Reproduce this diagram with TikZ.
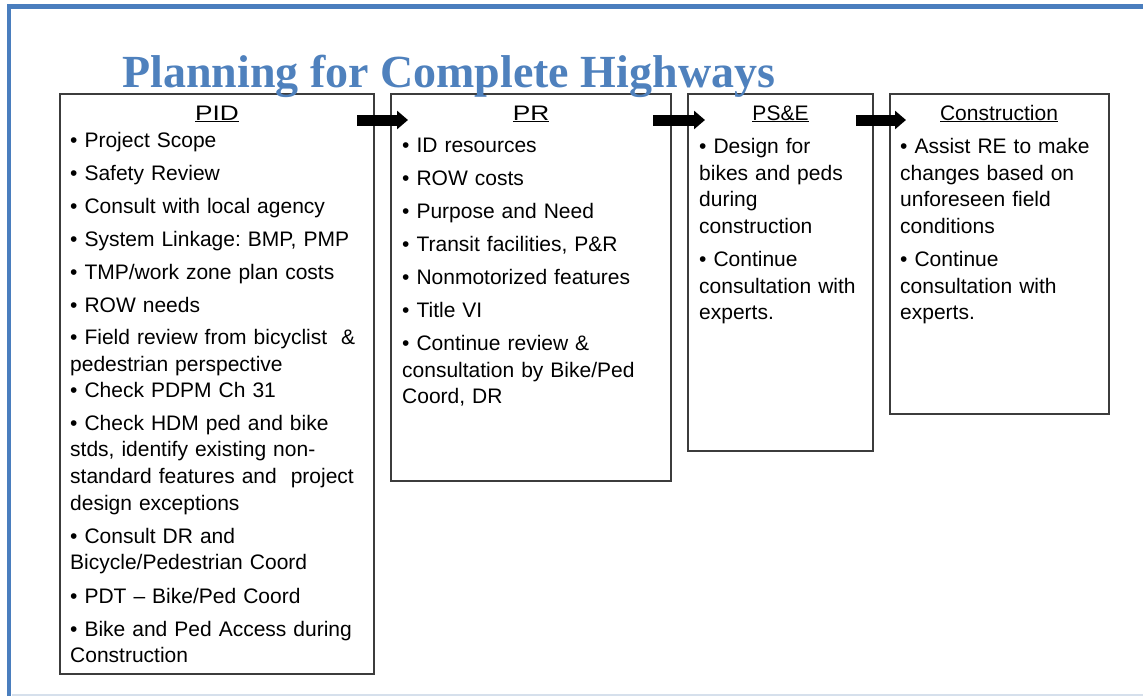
\documentclass[tikz,border=0pt]{standalone}
\usepackage{fontspec}
\setmainfont{Liberation Sans}
\newfontfamily\titlefont{Liberation Serif}
\usetikzlibrary{arrows.meta}
\definecolor{hwblue}{RGB}{79,129,189}
\definecolor{hwframe}{RGB}{74,126,190}
\definecolor{hwline}{RGB}{214,224,236}
\definecolor{hwbox}{RGB}{60,60,60}
\newcommand{\itemsize}{\fontsize{21}{26.7}\selectfont}
\newcommand{\widehead}[1]{\scalebox{1.25}[1]{\underline{#1}}}
\tikzset{stagebox/.style={draw=hwbox, line width=1.2pt, anchor=north west, inner sep=0pt, outer sep=0pt},
  stagehead/.style={font=\itemsize, anchor=base, inner sep=0pt},
  bullet/.style={font=\itemsize, anchor=base west, inner sep=0pt, text width=310pt, align=left},
  titletext/.style={font={\titlefont\bfseries\fontsize{46}{50}\selectfont}, text=hwblue, anchor=base west, inner sep=0pt},
  blockarrow/.style={line width=11pt, -{Triangle[width=18pt,length=11pt]}}}
\frenchspacing

\begin{document}
\begin{tikzpicture}[x=1pt, y=-1pt]
\useasboundingbox (0,0) rectangle (1143,696);

% Slide frame
\draw[hwframe, line width=4.5pt] (9,696) -- (9,6.5) -- (1143,6.5);
\draw[hwline, line width=2pt] (11.5,694.5) -- (1143,694.5);

% Stage boxes
\node[stagebox, minimum width=314pt, minimum height=580pt] (pid) at (60,94) {};
\node[stagebox, minimum width=280pt, minimum height=387pt] (pr) at (391,94) {};
\node[stagebox, minimum width=185pt, minimum height=357pt] (pse) at (688,94) {};
\node[stagebox, minimum width=219pt, minimum height=320pt] (con) at (890,94) {};

% Headings
\node[stagehead] (pidhead) at (217,120) {\widehead{PID}};
\node[stagehead] (prhead) at (531,120) {\widehead{PR}};
\node[stagehead] (psehead) at (780.5,120) {\underline{PS\&E}};
\node[stagehead] (conhead) at (999,120) {\underline{Construction}};

% PID items
\node[bullet] (pid1) at (70,147) {• Project Scope};
\node[bullet] (pid2) at (70,180) {• Safety Review};
\node[bullet] (pid3) at (70,213) {• Consult with local agency};
\node[bullet] (pid4) at (70,246) {• System Linkage: BMP, PMP};
\node[bullet] (pid5) at (70,279) {• TMP/work zone plan costs};
\node[bullet] (pid6) at (70,312) {• ROW needs};
\node[bullet] (pid7) at (70,344.5) {• Field review from bicyclist \ \&\\pedestrian perspective};
\node[bullet] (pid8) at (70,397) {• Check PDPM Ch 31};
\node[bullet] (pid9) at (70,430) {• Check HDM ped and bike\\stds, identify existing non-\\standard features and \ project\\design exceptions};
\node[bullet] (pid10) at (70,543) {• Consult DR and\\Bicycle/Pedestrian Coord};
\node[bullet] (pid11) at (70,603) {• PDT – Bike/Ped Coord};
\node[bullet] (pid12) at (70,636) {• Bike and Ped Access during\\Construction};

% PR items
\node[bullet] (pr1) at (402,152.5) {• ID resources};
\node[bullet] (pr2) at (402,185.5) {• ROW costs};
\node[bullet] (pr3) at (402,218.5) {• Purpose and Need};
\node[bullet] (pr4) at (402,251.5) {• Transit facilities, P\&R};
\node[bullet] (pr5) at (402,284.5) {• Nonmotorized features};
\node[bullet] (pr6) at (402,317.5) {• Title VI};
\node[bullet] (pr7) at (402,350.5) {• Continue review \&\\consultation by Bike/Ped\\Coord, DR};

% PS&E items
\node[bullet] (pse1) at (699,153.5) {• Design for\\bikes and peds\\during\\construction};
\node[bullet] (pse2) at (699,266.5) {• Continue\\consultation with\\experts.};

% Construction items
\node[bullet] (con1) at (900,153.5) {• Assist RE to make\\changes based on\\unforeseen field\\conditions};
\node[bullet] (con2) at (900,266.5) {• Continue\\consultation with\\experts.};

% Flow arrows
\draw[blockarrow] ([shift={(-17,26)}]pid.north east) -- ([shift={(17,26)}]pr.north west);
\draw[blockarrow] ([shift={(-18,26)}]pr.north east) -- ([shift={(17,26)}]pse.north west);
\draw[blockarrow] ([shift={(-17,26)}]pse.north east) -- ([shift={(16,26)}]con.north west);

% Title
\node[titletext] (title) at (122,87.5) {Planning for Complete Highways};
\end{tikzpicture}
\end{document}
